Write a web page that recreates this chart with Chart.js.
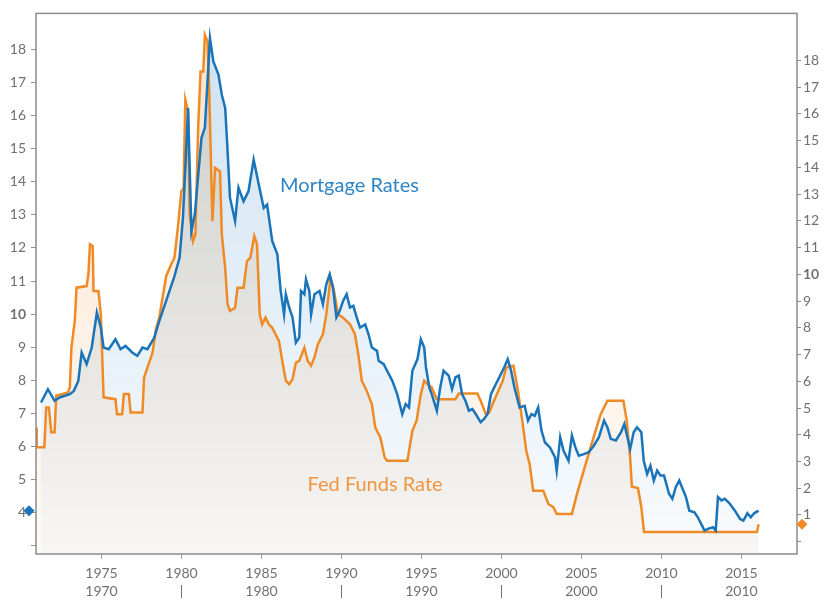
<!DOCTYPE html>
<html lang="en">
<head>
<meta charset="UTF-8">
<title>Mortgage Rates vs Fed Funds Rate</title>
<script src="https://cdn.jsdelivr.net/npm/chart.js"></script>
<style>
  body, html {
    margin: 0;
    padding: 0;
    background: #fff;
  }
  .chart-box {
    width: 824px;
    height: 606px;
  }
</style>
</head>
<body>
<div class="chart-box"><canvas id="rateChart" width="824" height="606"></canvas></div>

<script>
// values (year as decimal, percent)
var mortgageYears = [
  1971.22, 1971.65, 1972.07, 1972.38, 1973.02, 1973.27, 1973.55, 1973.76, 1974.07, 1974.39,
  1974.71, 1974.96, 1975.13, 1975.45, 1975.87, 1976.19, 1976.50, 1976.92, 1977.24, 1977.56,
  1977.87, 1978.30, 1978.61, 1979.04, 1979.56, 1979.88, 1980.09, 1980.26, 1980.41, 1980.62,
  1980.83, 1981.25, 1981.46, 1981.78, 1981.99, 1982.31, 1982.52, 1982.73, 1982.86, 1983.03,
  1983.35, 1983.56, 1983.88, 1984.19, 1984.51, 1984.83, 1985.14, 1985.35, 1985.67, 1985.99,
  1986.20, 1986.41, 1986.52, 1986.73, 1986.94, 1987.15, 1987.36, 1987.47, 1987.68, 1987.78,
  1987.99, 1988.10, 1988.31, 1988.63, 1988.84, 1989.05, 1989.26, 1989.47, 1989.68, 1989.89,
  1990.10, 1990.32, 1990.53, 1990.74, 1990.95, 1991.16, 1991.48, 1991.69, 1991.90, 1992.22,
  1992.32, 1992.64, 1992.85, 1993.17, 1993.48, 1993.80, 1994.01, 1994.22, 1994.43, 1994.75,
  1994.96, 1995.17, 1995.28, 1995.49, 1995.64, 1995.96, 1996.17, 1996.38, 1996.70, 1996.91,
  1997.12, 1997.33, 1997.54, 1997.75, 1997.96, 1998.18, 1998.39, 1998.70, 1998.91, 1999.13,
  1999.34, 1999.65, 1999.86, 2000.18, 2000.39, 2000.60, 2000.81, 2001.13, 2001.45, 2001.66,
  2001.87, 2002.08, 2002.29, 2002.50, 2002.72, 2003.03, 2003.35, 2003.45, 2003.67, 2003.88,
  2004.19, 2004.40, 2004.62, 2004.83, 2005.14, 2005.46, 2005.78, 2006.09, 2006.41, 2006.62,
  2006.83, 2007.15, 2007.47, 2007.68, 2008.04, 2008.26, 2008.47, 2008.74, 2008.89, 2009.10,
  2009.31, 2009.52, 2009.73, 2009.94, 2010.16, 2010.47, 2010.68, 2010.89, 2011.11, 2011.32,
  2011.53, 2011.74, 2012.06, 2012.27, 2012.48, 2012.69, 2012.90, 2013.22, 2013.39, 2013.53,
  2013.75, 2013.96, 2014.27, 2014.59, 2014.91, 2015.12, 2015.37, 2015.58, 2015.79, 2016.07
];
var mortgageRates = [
  7.33, 7.73, 7.38, 7.48, 7.58, 7.68, 7.98, 8.84, 8.49, 8.99,
  10.05, 9.59, 8.99, 8.94, 9.24, 8.94, 9.04, 8.84, 8.74, 8.99,
  8.94, 9.29, 9.79, 10.40, 11.15, 11.71, 12.91, 14.62, 16.23, 12.51,
  13.01, 15.33, 15.63, 18.34, 17.64, 17.24, 16.63, 16.23, 15.12, 13.52,
  12.81, 13.82, 13.41, 13.72, 14.67, 13.92, 13.21, 13.31, 12.21, 11.81,
  10.70, 9.99, 10.60, 10.20, 9.90, 9.14, 9.29, 10.70, 10.60, 11.05,
  10.70, 9.99, 10.60, 10.70, 10.30, 10.90, 11.20, 10.80, 9.90, 10.10,
  10.40, 10.60, 10.20, 10.25, 9.90, 9.59, 9.69, 9.39, 8.99, 8.89,
  8.59, 8.49, 8.29, 7.99, 7.58, 6.98, 7.28, 7.18, 8.29, 8.64,
  9.24, 8.99, 8.39, 7.78, 7.58, 7.08, 7.78, 8.29, 8.14, 7.73,
  8.09, 8.14, 7.58, 7.38, 7.08, 7.13, 6.98, 6.73, 6.83, 6.98,
  7.58, 7.89, 8.09, 8.40, 8.64, 8.29, 7.78, 7.18, 7.23, 6.78,
  6.98, 6.93, 7.18, 6.48, 6.12, 5.97, 5.67, 5.27, 6.28, 5.87,
  5.57, 6.33, 5.97, 5.72, 5.77, 5.83, 6.03, 6.28, 6.78, 6.58,
  6.23, 6.18, 6.43, 6.68, 5.92, 6.43, 6.58, 6.43, 5.57, 5.17,
  5.42, 4.97, 5.27, 5.12, 5.12, 4.57, 4.42, 4.77, 4.97, 4.72,
  4.47, 4.06, 4.01, 3.86, 3.66, 3.46, 3.51, 3.56, 3.46, 4.47,
  4.37, 4.42, 4.27, 4.06, 3.81, 3.76, 3.98, 3.86, 3.98, 4.06
];

var fedYears = [
  1970.91, 1970.95, 1971.43, 1971.54, 1971.71, 1971.86, 1972.07, 1972.17, 1972.91, 1973.02,
  1973.12, 1973.33, 1973.44, 1974.07, 1974.18, 1974.28, 1974.45, 1974.50, 1974.81, 1974.96,
  1975.13, 1975.87, 1975.97, 1976.29, 1976.40, 1976.71, 1976.82, 1977.56, 1977.66, 1977.87,
  1978.19, 1978.40, 1978.61, 1979.04, 1979.35, 1979.56, 1979.77, 1979.99, 1980.13, 1980.24,
  1980.41, 1980.51, 1980.72, 1980.87, 1981.04, 1981.19, 1981.36, 1981.46, 1981.63, 1981.74,
  1981.93, 1982.10, 1982.41, 1982.52, 1982.73, 1982.88, 1983.03, 1983.35, 1983.50, 1983.88,
  1984.09, 1984.30, 1984.55, 1984.72, 1984.89, 1985.04, 1985.25, 1985.46, 1985.67, 1986.09,
  1986.30, 1986.52, 1986.73, 1986.94, 1987.15, 1987.36, 1987.68, 1987.89, 1988.10, 1988.31,
  1988.52, 1988.84, 1989.05, 1989.32, 1989.53, 1989.79, 1990.10, 1990.53, 1990.84, 1991.05,
  1991.27, 1991.58, 1991.90, 1992.11, 1992.43, 1992.70, 1992.85, 1994.12, 1994.43, 1994.69,
  1994.96, 1995.17, 1995.49, 1995.64, 1995.96, 1997.12, 1997.33, 1998.49, 1998.70, 1999.02,
  1999.23, 1999.44, 1999.76, 2000.08, 2000.29, 2000.75, 2001.03, 2001.30, 2001.55, 2001.76,
  2001.98, 2002.61, 2002.93, 2003.24, 2003.45, 2004.40, 2004.72, 2005.14, 2005.57, 2005.88,
  2006.20, 2006.62, 2007.62, 2007.83, 2008.04, 2008.15, 2008.53, 2008.74, 2008.91, 2015.96,
  2016.07
];
var fedRates = [
  4.27, 3.53, 3.53, 5.02, 5.02, 4.09, 4.09, 5.46, 5.58, 5.77,
  7.26, 8.26, 9.50, 9.56, 10.00, 11.12, 11.05, 9.38, 9.38, 8.50,
  5.40, 5.33, 4.77, 4.77, 5.52, 5.52, 4.83, 4.83, 6.14, 6.51,
  7.07, 7.94, 8.38, 9.93, 10.37, 10.62, 11.74, 13.11, 13.23, 16.53,
  16.09, 12.24, 11.24, 11.49, 15.47, 17.58, 17.58, 18.95, 18.70, 16.71,
  11.99, 13.98, 13.85, 11.49, 10.24, 8.88, 8.63, 8.75, 9.50, 9.50,
  10.49, 10.62, 11.43, 11.12, 8.50, 8.13, 8.38, 8.13, 8.00, 7.51,
  6.76, 6.02, 5.89, 6.08, 6.70, 6.76, 7.26, 6.76, 6.58, 6.89,
  7.38, 7.76, 8.50, 9.87, 9.38, 8.50, 8.38, 8.13, 7.76, 7.01,
  6.02, 5.64, 5.14, 4.27, 3.90, 3.15, 3.03, 3.03, 4.15, 4.52,
  5.52, 6.02, 5.83, 5.77, 5.33, 5.33, 5.54, 5.54, 5.27, 4.77,
  4.83, 5.14, 5.58, 6.02, 6.51, 6.58, 5.64, 4.52, 3.40, 2.90,
  1.91, 1.91, 1.41, 1.29, 1.04, 1.04, 1.79, 2.66, 3.53, 4.15,
  4.77, 5.27, 5.27, 4.52, 3.15, 2.06, 2.01, 1.29, 0.36, 0.36,
  0.65
];

var tickYears = [1975, 1980, 1985, 1990, 1995, 2000, 2005, 2010, 2015];
var decadeRow = ['1970', '|', '1980', '|', '1990', '|', '2000', '|', '2010'];
var leftTicks = [3, 4, 5, 6, 7, 8, 9, 10, 11, 12, 13, 14, 15, 16, 17, 18];
var rightTicks = [0, 1, 2, 3, 4, 5, 6, 7, 8, 9, 10, 11, 12, 13, 14, 15, 16, 17, 18];
var seriesNames = ['Mortgage Rates', 'Fed Funds Rate'];

var BLUE = '#1a74b9';
var ORANGE = '#f08a24';
var TICK_GREY = '#707070';

function toPoints(xs, ys) {
  return xs.map(function (x, i) { return { x: x, y: ys[i] }; });
}

// fill that fades toward the bottom of the plot
function fadeFill(rgb, top, bottom) {
  return function (context) {
    var area = context.chart.chartArea;
    if (!area) return 'rgba(' + rgb + ',' + bottom + ')';
    var g = context.chart.ctx.createLinearGradient(0, area.top, 0, area.bottom);
    g.addColorStop(0, 'rgba(' + rgb + ',' + top + ')');
    g.addColorStop(1, 'rgba(' + rgb + ',' + bottom + ')');
    return g;
  };
}

function tickFont(context) {
  var isTen = context.tick && context.tick.value === 10;
  return { family: 'Lato', size: 14, weight: isTen ? 'bold' : 'normal' };
}

function diamond(ctx, x, y, r, color) {
  ctx.beginPath();
  ctx.moveTo(x, y - r);
  ctx.lineTo(x + r, y);
  ctx.lineTo(x, y + r);
  ctx.lineTo(x - r, y);
  ctx.closePath();
  ctx.fillStyle = color;
  ctx.fill();
}

// frame, series names and last-value markers
var extras = {
  id: 'extras',
  afterDraw: function (chart) {
    var ctx = chart.ctx;
    var a = chart.chartArea;
    var sx = chart.scales.x, yl = chart.scales.yL, yr = chart.scales.yR;
    ctx.save();
    ctx.strokeStyle = '#8c8c8c';
    ctx.lineWidth = 1.5;
    ctx.strokeRect(a.left, a.top, a.right - a.left, a.bottom - a.top);

    ctx.font = '20px Lato';
    ctx.textAlign = 'center';
    ctx.textBaseline = 'middle';
    ctx.fillStyle = '#2f84c4';
    ctx.fillText(seriesNames[0], sx.getPixelForValue(1990.5), yl.getPixelForValue(13.9));
    ctx.fillStyle = '#f2953e';
    ctx.fillText(seriesNames[1], sx.getPixelForValue(1992.1), yl.getPixelForValue(4.86));

    diamond(ctx, a.left - 7, yl.getPixelForValue(mortgageRates[mortgageRates.length - 1]), 5.5, BLUE);
    diamond(ctx, a.right + 5, yr.getPixelForValue(fedRates[fedRates.length - 1]), 5.5, ORANGE);
    ctx.restore();
  }
};

var ctx = document.getElementById('rateChart').getContext('2d');
var rateChart = new Chart(ctx, {
  type: 'line',
  data: {
    datasets: [{
      label: seriesNames[0],
      data: toPoints(mortgageYears, mortgageRates),
      yAxisID: 'yL',
      borderColor: BLUE,
      borderWidth: 2.5,
      backgroundColor: fadeFill('30,120,190', 0.22, 0.03),
      fill: 'start',
      pointRadius: 0,
      tension: 0
    }, {
      label: seriesNames[1],
      data: toPoints(fedYears, fedRates),
      yAxisID: 'yR',
      borderColor: ORANGE,
      borderWidth: 2.5,
      backgroundColor: fadeFill('235,140,40', 0.24, 0.04),
      fill: 'start',
      pointRadius: 0,
      tension: 0
    }]
  },
  options: {
    responsive: false,
    devicePixelRatio: 1,
    animation: false,
    layout: { padding: { top: 5, left: 0, right: 0, bottom: 0 } },
    plugins: {
      legend: { display: false },
      tooltip: { enabled: false },
      filler: { drawTime: 'beforeDatasetsDraw' }
    },
    scales: {
      x: {
        type: 'linear',
        min: 1970.906,
        max: 2018.47,
        afterBuildTicks: function (s) {
          s.ticks = tickYears.map(function (v) { return { value: v }; });
        },
        afterFit: function (s) { s.height = 52; },
        grid: { drawOnChartArea: false, tickLength: 5, color: '#a0a0a0' },
        border: { display: false },
        ticks: {
          autoSkip: false,
          maxRotation: 0,
          padding: 6,
          color: TICK_GREY,
          font: { family: 'Lato', size: 14, lineHeight: 1.25 },
          callback: function (v, i) { return [String(tickYears[i]), decadeRow[i]]; }
        }
      },
      yL: {
        position: 'left',
        min: 2.75,
        max: 19.089,
        afterBuildTicks: function (s) {
          s.ticks = leftTicks.map(function (v) { return { value: v }; });
        },
        afterFit: function (s) { s.width = 36; },
        grid: { drawOnChartArea: false, tickLength: 5, color: '#909090' },
        border: { display: false },
        ticks: {
          padding: 5,
          color: TICK_GREY,
          font: tickFont,
          callback: function (v) { return v === 3 ? '' : String(v); }
        }
      },
      yR: {
        position: 'right',
        min: -0.46,
        max: 19.757,
        afterBuildTicks: function (s) {
          s.ticks = rightTicks.map(function (v) { return { value: v }; });
        },
        afterFit: function (s) { s.width = 27; },
        grid: { drawOnChartArea: false, tickLength: 4, color: '#909090' },
        border: { display: false },
        ticks: {
          padding: 2,
          color: TICK_GREY,
          font: tickFont,
          callback: function (v) { return v === 0 ? '' : String(v); }
        }
      }
    }
  },
  plugins: [extras]
});
</script>
</body>
</html>
